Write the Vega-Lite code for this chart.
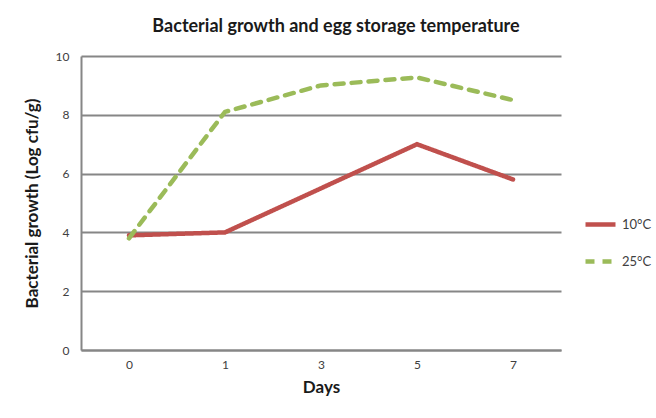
{
  "$schema": "https://vega.github.io/schema/vega-lite/v6.json",
  "autosize": "none",
  "width": 480,
  "height": 294,
  "padding": {"left": 81, "top": 56, "right": 95, "bottom": 68},
  "background": "white",
  "title": {
    "text": "Bacterial growth and egg storage temperature",
    "font": "Lato",
    "fontSize": 18,
    "fontWeight": "bold",
    "color": "#1a1a1a",
    "anchor": "middle",
    "dx": 15,
    "offset": 14
  },
  "data": {
    "values": [
      {"day": "0", "temp": "10°C", "growth": 3.9},
      {"day": "1", "temp": "10°C", "growth": 4.0},
      {"day": "3", "temp": "10°C", "growth": 5.5},
      {"day": "5", "temp": "10°C", "growth": 7.0},
      {"day": "7", "temp": "10°C", "growth": 5.8},
      {"day": "0", "temp": "25°C", "growth": 3.8},
      {"day": "1", "temp": "25°C", "growth": 8.1},
      {"day": "3", "temp": "25°C", "growth": 9.0},
      {"day": "5", "temp": "25°C", "growth": 9.27},
      {"day": "7", "temp": "25°C", "growth": 8.5}
    ]
  },
  "mark": {"type": "line", "strokeWidth": 4.5, "strokeCap": "round"},
  "encoding": {
    "x": {
      "field": "day",
      "type": "ordinal",
      "sort": ["0", "1", "3", "5", "7"],
      "scale": {"type": "point", "padding": 0.5},
      "axis": {
        "title": "Days",
        "titleFont": "Lato",
        "titleFontSize": 17,
        "titleFontWeight": "bold",
        "titleColor": "#1a1a1a",
        "titlePadding": 9,
        "labelFont": "Lato",
        "labelFontSize": 12,
        "labelColor": "#404040",
        "labelAngle": 0,
        "labelPadding": 9,
        "ticks": false,
        "domainColor": "#868686",
        "domainWidth": 2,
        "grid": false
      }
    },
    "y": {
      "field": "growth",
      "type": "quantitative",
      "scale": {"domain": [0, 10], "nice": false},
      "axis": {
        "title": "Bacterial growth (Log cfu/g)",
        "values": [0, 2, 4, 6, 8, 10],
        "titleFont": "Lato",
        "titleFontSize": 17,
        "titleFontWeight": "bold",
        "titleColor": "#1a1a1a",
        "titlePadding": 14,
        "labelFont": "Lato",
        "labelFontSize": 12,
        "labelColor": "#404040",
        "labelPadding": 12,
        "ticks": false,
        "domainColor": "#868686",
        "domainWidth": 2,
        "grid": true,
        "gridColor": "#868686",
        "gridWidth": 2
      }
    },
    "color": {
      "field": "temp",
      "type": "nominal",
      "scale": {"domain": ["10°C", "25°C"], "range": ["#C0504D", "#9BBB59"]},
      "legend": {
        "title": null,
        "orient": "none",
        "legendX": 502,
        "legendY": 151,
        "symbolType": "stroke",
        "symbolSize": 900,
        "symbolStrokeWidth": 4.5,
        "labelFont": "Lato",
        "labelFontSize": 13,
        "labelColor": "#404040",
        "rowPadding": 10,
        "labelOffset": 4
      }
    },
    "strokeDash": {
      "field": "temp",
      "type": "nominal",
      "scale": {"domain": ["10°C", "25°C"], "range": [[1, 0], [9, 8]]},
      "legend": null
    }
  },
  "config": {
    "view": {"stroke": null}
  }
}
